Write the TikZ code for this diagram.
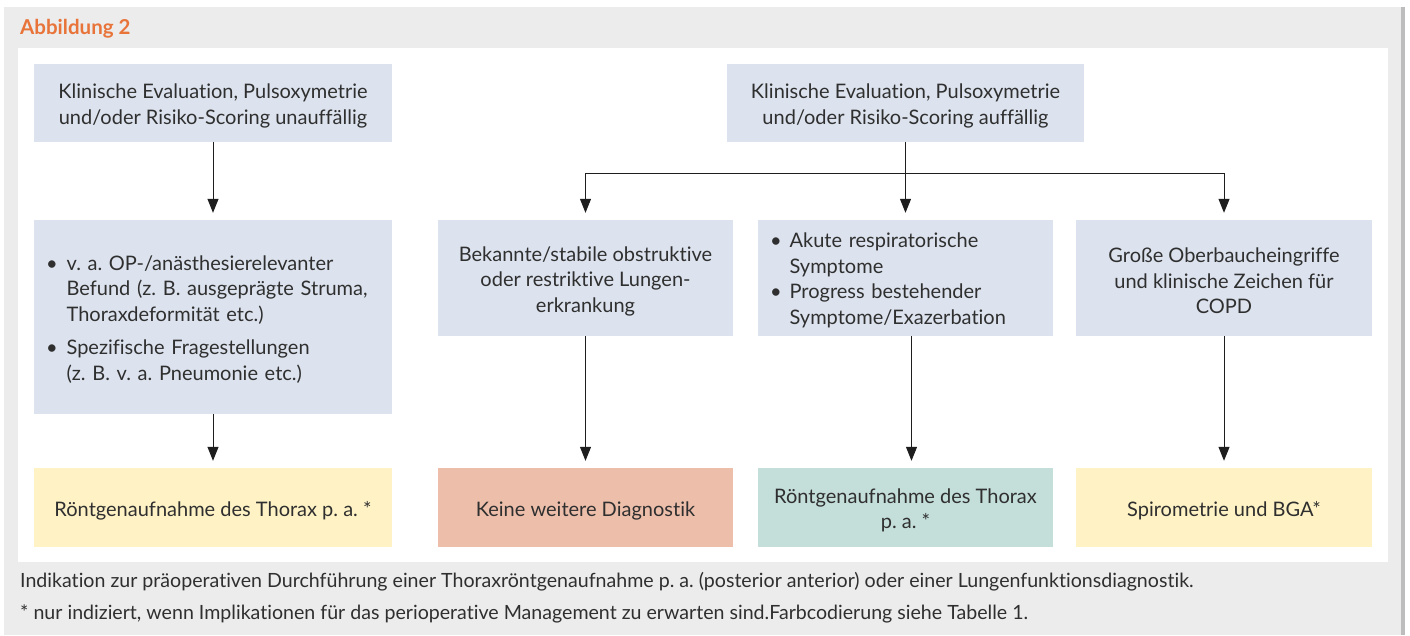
\documentclass[tikz,border=0pt]{standalone}
\usepackage{fontspec}
\setmainfont[Ligatures=NoCommon]{Lato}
\frenchspacing
\usetikzlibrary{arrows.meta}
\definecolor{panel}{HTML}{ECECEC}
\definecolor{shadow}{HTML}{BDBDBD}
\definecolor{lblue}{HTML}{DCE3EE}
\definecolor{lyellow}{HTML}{FFF3C6}
\definecolor{salmon}{HTML}{EDBFAB}
\definecolor{lteal}{HTML}{C4DEDA}
\definecolor{titleor}{HTML}{E8743A}
\definecolor{txt}{HTML}{2F2F2F}
\definecolor{arr}{HTML}{1E1E1E}
\tikzset{
  bx/.style={fill=#1, inner sep=0pt},
  tx/.style={inner sep=0pt, align=center, text=txt,
    font=\frenchspacing\fontsize{20}{25.5}\selectfont},
  arrowline/.style={draw=arr, line width=1pt,
    -{Triangle[length=14pt,width=11pt]}, shorten >=7pt},
  plainline/.style={draw=arr, line width=1pt},
}
\begin{document}
\begin{tikzpicture}[x=1pt,y=-1pt]
\useasboundingbox (0,0) rectangle (1410,635);
% panels
\fill[panel] (4,7) rectangle (1403,635);
\fill[shadow] (1401,7) rectangle (1405,635);
\fill[white] (18,48) rectangle (1388,562);
\node[anchor=west, text=titleor, font=\bfseries\fontsize{20.5}{24}\selectfont, inner sep=0pt] (title) at (20,29) {Abbildung 2};
% top boxes
\node[bx=lblue, minimum width=358pt, minimum height=78pt] (A) at (213,103) {};
\node[tx] (At) at ([yshift=-3pt]A.center)
  {Klinische Evaluation, Pulsoxymetrie\\und/oder Risiko-Scoring unauffällig};
\node[bx=lblue, minimum width=357pt, minimum height=78pt] (B) at (905.5,103) {};
\node[tx] (Bt) at ([yshift=-3pt]B.center)
  {Klinische Evaluation, Pulsoxymetrie\\und/oder Risiko-Scoring auffällig};
% middle boxes
\node[bx=lblue, minimum width=358pt, minimum height=194pt] (C) at (213,317) {};
\node[tx, text width=334pt, align=left] (Ct) at ([yshift=-3pt]C.center)
  {\begin{tabular}{@{}l@{\hspace{9pt}}l@{}}
   \textbullet & v. a. OP-/anästhesierelevanter\\
   & Befund (z. B. ausgeprägte Struma,\\
   & Thoraxdeformität etc.)\\[8pt]
   \textbullet & Spezifische Fragestellungen\\
   & (z. B. v. a. Pneumonie etc.)
   \end{tabular}};
\node[bx=lblue, minimum width=295pt, minimum height=116pt] (D) at (585.5,278) {};
\node[tx] (Dt) at ([yshift=-3pt]D.center)
  {Bekannte/stabile obstruktive\\oder restriktive Lungen-\\erkrankung};
\node[bx=lblue, minimum width=295pt, minimum height=116pt] (E) at (905.5,278) {};
\node[tx, text width=271pt, align=left] (Et) at ([yshift=-3pt]E.center)
  {\begin{tabular}{@{}l@{\hspace{8pt}}l@{}}
   \textbullet & Akute respiratorische\\
   & Symptome\\
   \textbullet & Progress bestehender\\
   & Symptome/Exazerbation
   \end{tabular}};
\node[bx=lblue, minimum width=296pt, minimum height=116pt] (F) at (1224,278) {};
\node[tx] (Ft) at ([yshift=-3pt]F.center)
  {Große Oberbaucheingriffe\\und klinische Zeichen für\\COPD};
% bottom boxes
\node[bx=lyellow, minimum width=358pt, minimum height=79pt] (G) at (213,507.5) {};
\node[tx] (Gt) at ([yshift=-3pt]G.center) {Röntgenaufnahme des Thorax p. a. *};
\node[bx=salmon, minimum width=295pt, minimum height=79pt] (H) at (585.5,507.5) {};
\node[tx] (Ht) at ([yshift=-3pt]H.center) {Keine weitere Diagnostik};
\node[bx=lteal, minimum width=295pt, minimum height=79pt] (I) at (905.5,507.5) {};
\node[tx] (It) at ([yshift=-3pt]I.center) {Röntgenaufnahme des Thorax\\p. a. *};
\node[bx=lyellow, minimum width=296pt, minimum height=79pt] (J) at (1224,507.5) {};
\node[tx] (Jt) at ([yshift=-3pt]J.center) {Spirometrie und BGA*};
% connectors
\draw[arrowline] (A.south) -- (C.north);
\draw[arrowline] (C.south) -- (G.north);
\coordinate (split) at (905.5,173);
\draw[plainline] (B.south) -- (split);
\draw[arrowline] (split) -- (E.north);
\draw[arrowline] (split) -| (D.north);
\draw[arrowline] (split) -| (F.north);
\draw[arrowline] (D.south) -- (H.north);
\draw[arrowline] ([xshift=6pt]E.south) -- ([xshift=6pt]I.north);
\draw[arrowline] (F.south) -- (J.north);
% caption
\node[anchor=west, text=txt, inner sep=0pt, font=\frenchspacing\fontsize{19.6}{22}\selectfont] (cap1) at (20,582)
  {Indikation zur präoperativen Durchführung einer Thoraxröntgenaufnahme p. a. (posterior anterior) oder einer Lungenfunktionsdiagnostik.};
\node[anchor=west, text=txt, inner sep=0pt, font=\frenchspacing\fontsize{19.6}{22}\selectfont] (cap2) at (20,614)
  {* nur indiziert, wenn Implikationen für das perioperative Management zu erwarten sind.Farbcodierung siehe Tabelle 1.};
\end{tikzpicture}
\end{document}
